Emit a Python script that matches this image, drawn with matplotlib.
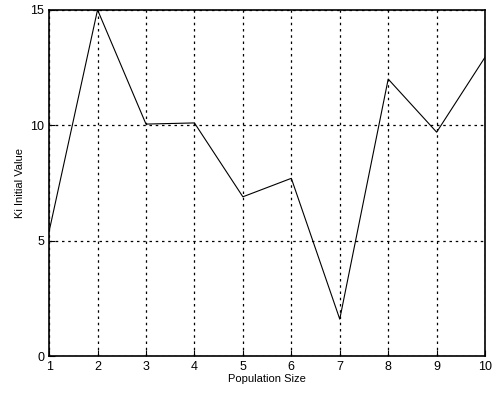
import matplotlib
matplotlib.use("Agg")
import matplotlib.pyplot as plt

population_size = [1, 2, 3, 4, 5, 6, 7, 8, 9, 10]
ki_initial = [5.4, 15.0, 10.05, 10.1, 6.9, 7.7, 1.6, 12.0, 9.7, 12.95]
y_ticks = [0, 5, 10, 15]

plt.rcParams['font.family'] = ['Liberation Sans', 'DejaVu Sans']

fig = plt.figure(figsize=(4.96, 3.93), dpi=100)
ax = fig.add_axes([0.099, 0.094, 0.879, 0.881])
ax.plot(population_size, ki_initial, color='black', linewidth=0.8)
ax.set_xlim(1, 10)
ax.set_ylim(0, 15)
ax.set_xticks(population_size)
ax.set_yticks(y_ticks)
ax.grid(True, linestyle=(0, (2, 3)), color='black', linewidth=0.9)
ax.tick_params(direction='in', labelsize=9, length=4)
for s in ax.spines.values():
    s.set_linewidth(1.2)
ax.set_xlabel('Population Size', fontsize=8, labelpad=1)
ax.set_ylabel('Ki Initial Value', fontsize=8, labelpad=4)
fig.savefig('out.png', dpi=100)
